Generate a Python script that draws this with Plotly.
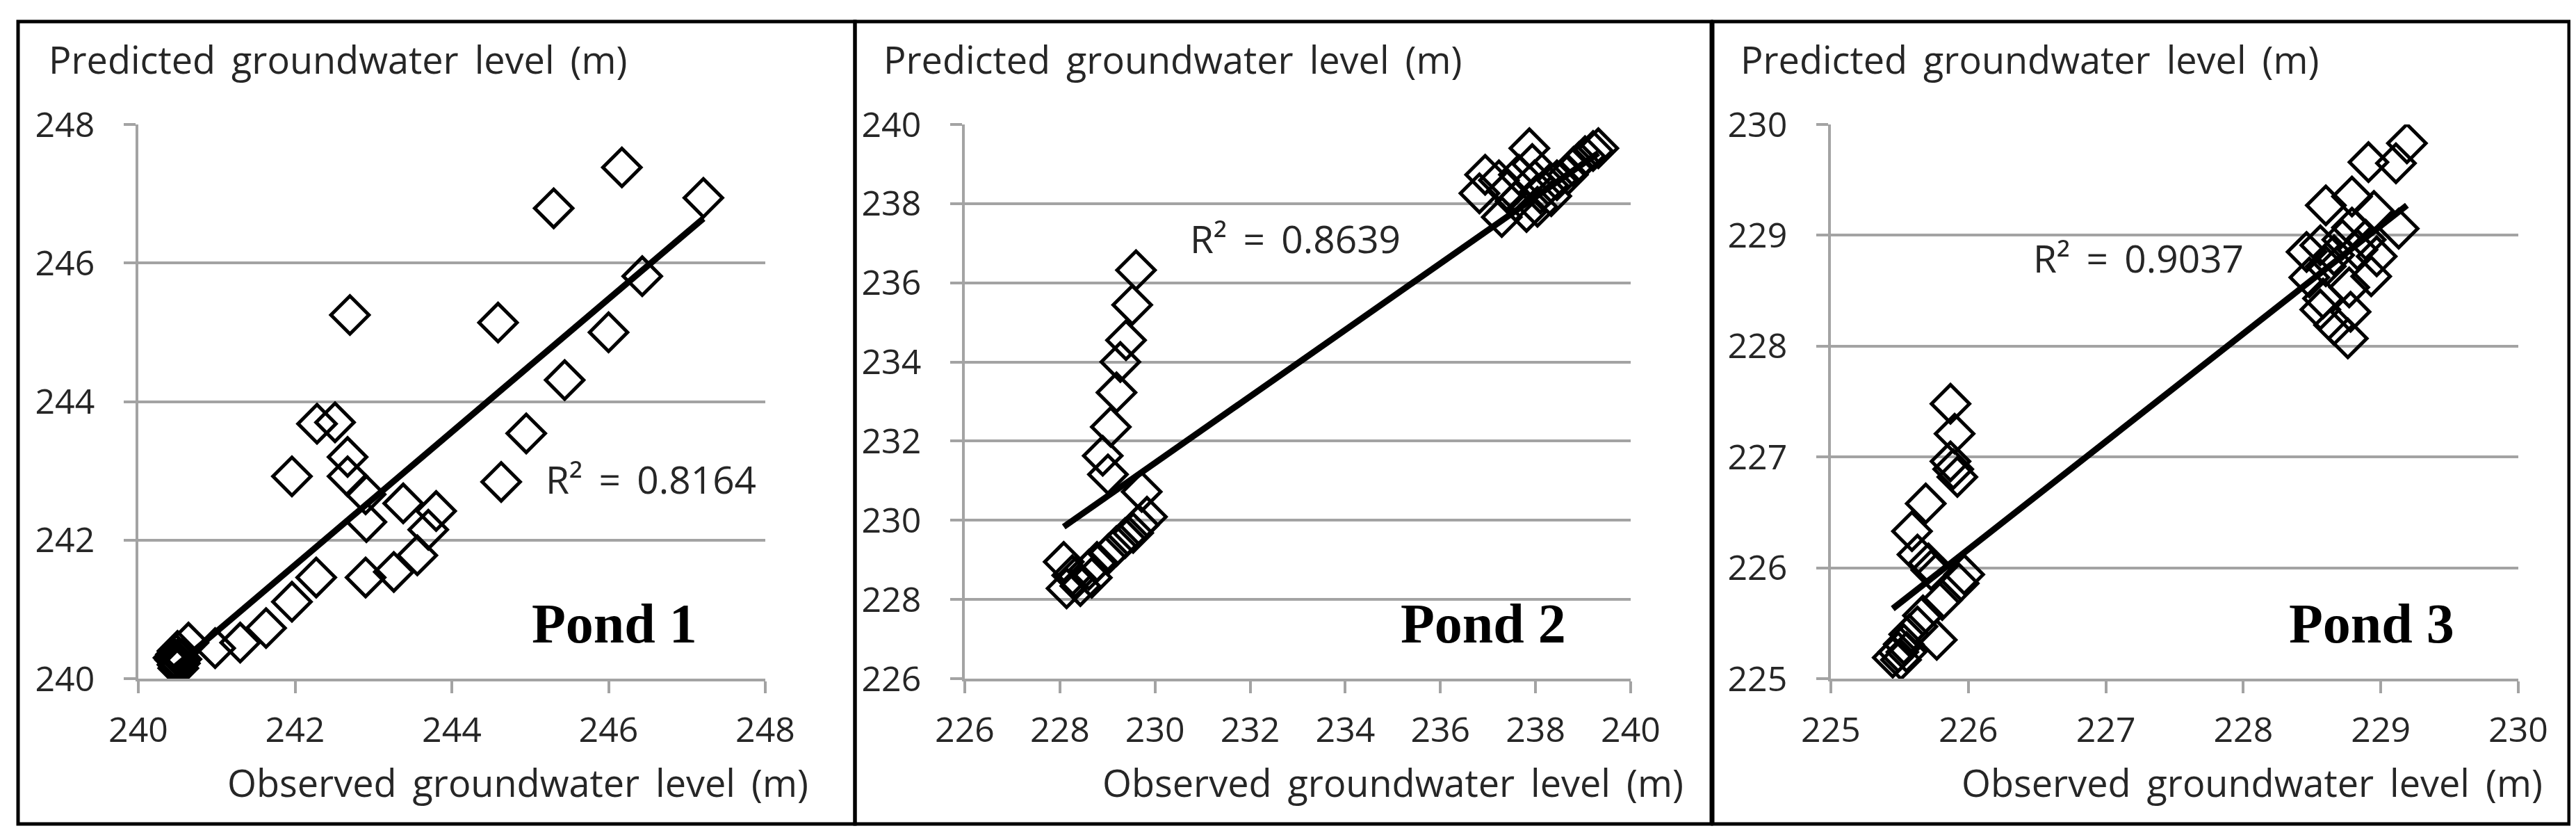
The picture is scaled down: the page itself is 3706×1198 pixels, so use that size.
import numpy as np
import plotly.graph_objects as go

# %% data
# Pond 1
pond1_obs = [246.17, 245.30, 247.21, 246.43, 242.70, 244.59, 246.00, 245.44,
             242.28, 242.51, 242.67, 244.95, 241.96, 242.67, 244.63, 242.90,
             242.91, 243.38, 243.80, 243.70, 243.56, 242.27, 242.90, 243.26,
             241.96, 241.63, 241.30, 240.98, 240.64, 240.50, 240.50, 240.52,
             240.48, 240.55, 240.45, 240.50, 240.53, 240.47, 240.51]
pond1_pred = [247.38, 246.79, 246.94, 245.81, 245.25, 245.14, 245.00, 244.31,
              243.68, 243.70, 243.20, 243.54, 242.92, 242.92, 242.84, 242.66,
              242.26, 242.53, 242.42, 242.15, 241.78, 241.46, 241.46, 241.54,
              241.11, 240.73, 240.52, 240.44, 240.52, 240.20, 240.25, 240.30,
              240.35, 240.28, 240.30, 240.40, 240.22, 240.27, 240.15]

# Pond 2
pond2_obs = [229.60, 229.52, 229.39, 229.27, 229.19, 229.07, 228.90, 229.01,
             229.72, 229.83, 229.66, 229.54, 229.37, 229.19, 229.02, 228.78,
             228.61, 228.08, 228.32, 228.14, 228.43, 228.26, 228.67,
             236.82, 236.94, 237.23, 237.29, 237.58, 237.87, 237.93, 237.98,
             238.10, 238.04, 237.81, 238.27, 238.45, 238.68, 238.80, 238.92,
             239.04, 239.21, 239.32, 237.65, 237.40, 238.33]
pond2_pred = [236.32, 235.44, 234.55, 234.00, 233.23, 232.36, 231.63, 231.16,
              230.72, 230.09, 229.88, 229.68, 229.55, 229.35, 229.15, 228.95,
              228.75, 228.95, 228.55, 228.28, 228.34, 228.61, 228.55,
              238.26, 238.73, 238.59, 237.66, 238.06, 239.40, 239.00, 238.59,
              238.26, 237.92, 237.79, 238.46, 238.59, 238.73, 238.93, 239.06,
              239.20, 239.33, 239.40, 238.73, 238.33, 238.19]

# Pond 3
pond3_obs = [225.87, 225.90, 225.87, 225.89, 225.92, 225.69, 225.59, 225.63,
             225.71, 225.73, 225.97, 225.93, 225.81, 225.67, 225.77, 225.63,
             225.57, 225.53, 225.49, 225.51, 225.45, 225.55,
             229.19, 229.11, 228.91, 228.60, 228.79, 228.95, 229.13, 228.79,
             228.46, 228.56, 228.60, 228.48, 228.66, 228.83, 228.93, 228.77,
             228.58, 228.56, 228.78, 228.66, 228.76, 228.72, 228.89, 228.97]
pond3_pred = [227.48, 227.21, 226.96, 226.89, 226.82, 226.58, 226.33, 226.12,
              226.04, 225.98, 225.94, 225.86, 225.71, 225.57, 225.35, 225.47,
              225.40, 225.31, 225.24, 225.17, 225.19, 225.24,
              229.83, 229.65, 229.66, 229.27, 229.35, 229.22, 229.06, 229.07,
              228.85, 228.91, 228.72, 228.62, 228.82, 228.87, 228.63, 228.53,
              228.43, 228.33, 228.31, 228.19, 228.07, 228.96, 228.96, 228.81]

# linear trend lines (slope, intercept) and R² as shown
trend_slope = [0.96, 0.84, 0.97319]
trend_intercept = [9.3212, 38.2496, 6.2254]
r_squared = ["0.8164", "0.8639", "0.9037"]
pond_names = ["Pond 1", "Pond 2", "Pond 3"]

# axis ranges and ticks
x_ranges = [[240, 248], [226, 240], [225, 230]]
y_ranges = [[240, 248], [226, 240], [225, 230]]
tick_steps = [2, 2, 1]

# the original font has wide word gaps, pad with thin spaces
gap = " \u2009"
x_title = gap.join(["Observed", "groundwater", "level", "(m)"])
y_title = gap.join(["Predicted", "groundwater", "level", "(m)"])

# %% layout helpers (pixel -> paper)
W, H = 3706, 1198


def px(x):
    return x / W


def py(y):
    return 1 - y / H


x_domains = [[191, 1093], [1380, 2338], [2626, 3615]]
y_domain = [py(968), py(171)]
borders = [[18, 1222], [1222, 2454], [2456, 3688]]
ytitle_left = [60, 1261, 2494]
xtitle_right = [1157, 2416, 3652]
r2_left = [775, 1702, 2915]
r2_y = [681, 334, 362]
pond_left = [755, 2005, 3283]

sans = "Open Sans"
grey = "#a3a3a3"
text_col = "#262626"

obs = [pond1_obs, pond2_obs, pond3_obs]
pred = [pond1_pred, pond2_pred, pond3_pred]

fig = go.Figure()
annotations = []
shapes = []

for i in range(3):
    n = "" if i == 0 else str(i + 1)
    xa, ya = "x" + n, "y" + n
    fig.add_trace(go.Scatter(x=obs[i], y=pred[i], mode="markers",
                             xaxis=xa, yaxis=ya,
                             marker=dict(symbol="diamond-open", size=42,
                                         color="black",
                                         line=dict(width=5, color="black")),
                             showlegend=False))
    xs = np.array([min(obs[i]), max(obs[i])])
    ys = trend_slope[i] * xs + trend_intercept[i]
    fig.add_trace(go.Scatter(x=xs, y=ys, mode="lines", xaxis=xa, yaxis=ya,
                             line=dict(color="black", width=9),
                             showlegend=False))

    axis_common = dict(showline=True, linecolor=grey, linewidth=3.5,
                       ticks="outside", ticklen=17, tickwidth=3.5,
                       tickcolor=grey, dtick=tick_steps[i],
                       tickfont=dict(family=sans, size=50, color=text_col),
                       zeroline=False, automargin=False)
    fig.layout["xaxis" + n] = dict(
        domain=[px(x_domains[i][0]), px(x_domains[i][1])],
        range=x_ranges[i], anchor=ya, showgrid=False,
        tick0=x_ranges[i][0], ticklabelstandoff=10, **axis_common)
    fig.layout["yaxis" + n] = dict(
        domain=y_domain, range=y_ranges[i], anchor=xa,
        showgrid=True, gridcolor=grey, gridwidth=3.5,
        tick0=y_ranges[i][0], ticklabelstandoff=32, **axis_common)

    # panel frame
    shapes.append(dict(type="rect", xref="paper", yref="paper",
                       x0=px(borders[i][0]), x1=px(borders[i][1]),
                       y0=py(1177), y1=py(23),
                       line=dict(color="black", width=5)))

    annotations.append(dict(text=y_title, xref="paper", yref="paper",
                            x=px(ytitle_left[i]), y=py(77),
                            xanchor="left", yanchor="middle", showarrow=False,
                            font=dict(family=sans, size=54, color=text_col)))
    annotations.append(dict(text=x_title, xref="paper", yref="paper",
                            x=px(xtitle_right[i]), y=py(1117),
                            xanchor="right", yanchor="middle", showarrow=False,
                            font=dict(family=sans, size=54, color=text_col)))
    annotations.append(dict(text="R²" + gap + "=" + gap + r_squared[i],
                            xref="paper", yref="paper",
                            x=px(r2_left[i]), y=py(r2_y[i]),
                            xanchor="left", yanchor="middle", showarrow=False,
                            font=dict(family=sans, size=55, color=text_col)))
    annotations.append(dict(text="<b>" + pond_names[i] + "</b>",
                            xref="paper", yref="paper",
                            x=px(pond_left[i]), y=py(889),
                            xanchor="left", yanchor="middle", showarrow=False,
                            font=dict(family="Liberation Serif", size=80,
                                      color="black")))

fig.update_layout(width=W, height=H, margin=dict(l=0, r=0, t=0, b=0),
                  paper_bgcolor="white", plot_bgcolor="white",
                  annotations=annotations, shapes=shapes)

fig.write_html("out.html")
